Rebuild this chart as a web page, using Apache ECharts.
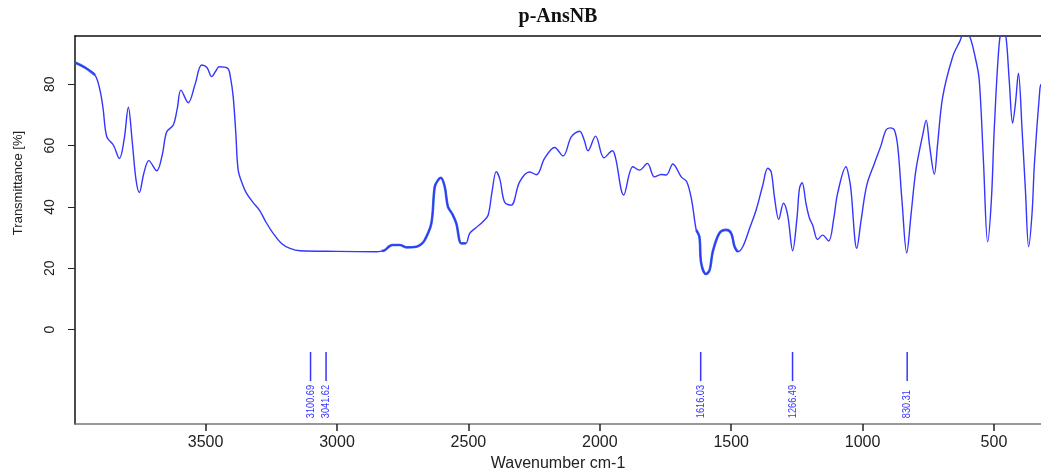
<!DOCTYPE html>
<html>
<head>
<meta charset="utf-8">
<script src="https://cdn.jsdelivr.net/npm/echarts@6/dist/echarts.min.js"></script>
<style>
html,body{margin:0;padding:0;background:#fff;}
#chart{width:1041px;height:470px;}
</style>
</head>
<body>
<div id="chart"></div>
<script>
// ---- data ----
var wavenumbers = [3997,3960,3921,3902,3890,3876,3851,3828,3810,3794,3780,3765,3752,3735,3716,3686,3665,3648,3623,3608,3594,3566,3540,3515,3495,3477,3460,3449,3416,3405,3395,3385,3376,3360,3344,3320,3294,3270,3243,3210,3179,3141,3000,2850,2830,2818,2800,2787,2761,2736,2698,2680,2666,2641,2628,2615,2605,2590,2578,2560,2546,2527,2510,2495,2470,2445,2425,2410,2394,2380,2362,2337,2305,2267,2241,2210,2172,2140,2108,2077,2060,2045,2016,1984,1952,1940,1909,1874,1849,1819,1792,1766,1747,1722,1690,1669,1650,1633,1621,1614,1596,1582,1570,1545,1519,1500,1487,1475,1456,1430,1405,1380,1361,1348,1335,1319,1301,1285,1266,1250,1240,1230,1215,1202,1190,1171,1152,1129,1110,1095,1063,1050,1044,1022,1005,984,955,930,911,895,879,866,850,832,815,797,770,758,745,727,715,695,657,630,613,594,569,556,540,524,510,499,480,467,455,442,429,418,407,393,380,368,355,346,325,321];
var transmittance = [87.1,85.5,83.0,78.1,72,62.9,60.2,55.8,62,72.5,62,49,44.7,51,55.1,51.8,57,64.5,66.7,72,78.1,74.0,80,86.3,85.5,82.5,84.5,85.7,85.2,82,75.9,64,52.0,47.5,44.4,41.5,38.8,35,31.4,28,26.5,25.7,25.5,25.4,25.6,25.9,27.2,27.6,27.6,26.8,27.0,27.8,29.2,34.6,46.6,48.8,49.5,46.6,40.1,37.5,34.6,28.1,28.1,31.4,33.3,35.2,37.3,45,51.5,49,41.5,40.6,48.2,51.4,50.5,55.8,59.4,56.6,62.9,64.7,62,58.3,63.1,56.0,58.3,56,43.9,53.1,52.0,54.2,49.8,50.6,50.4,54.0,49.8,48.2,42,32.5,30.3,21.6,18.1,19.4,25.4,31.4,32.5,31.4,27.0,25.4,27.0,33,39.0,47,52.6,51.5,43,35.9,41.2,37.3,25.7,36,46.1,47.9,41,36.3,34.1,29.4,30.8,28.9,36,44.4,53.1,49,45.5,26.5,36,47.1,54.2,60,65.1,65.8,65.1,59.6,42,25.0,38,52.0,64,68.3,60,50.7,60,75.9,89.0,94,97,96,87.9,81.4,55,28.6,42,65.1,93.3,98,96,81.4,67.3,74,83.6,65.1,45,27.0,38,54.2,78.7,80];
// wavenumber ranges drawn as the thicker, noisier trace
var noisyRanges = [[3920,3997],[2500,2830],[1460,1640]];
var peakPositions = [3100.69, 3041.62, 1616.03, 1266.49, 830.31];
var peakLabels = ['3100.69', '3041.62', '1616.03', '1266.49', '830.31'];
var xTicks = [3500, 3000, 2500, 2000, 1500, 1000, 500];
var yTicks = [0, 20, 40, 60, 80];

// ---- build ----
var mainData = wavenumbers.map(function(w, i){ return [w, transmittance[i]]; });
var noisyData = [];
noisyRanges.forEach(function(r, k){
  if (k > 0) noisyData.push([null, null]);
  wavenumbers.forEach(function(w, i){
    if (w >= r[0] && w <= r[1]) noisyData.push([w, transmittance[i]]);
  });
});
var peakData = peakPositions.map(function(p){ return [p, 0]; });

var LINE_TOP = -7.3, LINE_BOTTOM = -16.8, TEXT_BOTTOM = -28.9;
var BLUE = '#3535ff';
var plain = function(v){ return String(v); };

var chart = echarts.init(document.getElementById('chart'), null, {renderer: 'canvas'});
chart.setOption({
  animation: false,
  backgroundColor: '#ffffff',
  title: {
    text: 'p-AnsNB',
    left: 553, top: 2, textAlign: 'center',
    textStyle: {fontFamily: '"Liberation Serif", serif', fontWeight: 'bold', fontSize: 20, color: '#111'}
  },
  grid: {left: 75, top: 36, right: 0, bottom: 46, containLabel: false, outerBoundsMode: 'none'},
  graphic: [{
    type: 'text', x: 18, y: 183, rotation: Math.PI / 2,
    style: {text: 'Transmittance [%]', fill: '#222', font: '13px "Liberation Sans", Arial, sans-serif', align: 'center', verticalAlign: 'middle'}
  }],
  xAxis: [{
    type: 'value', inverse: true, min: 321, max: 3997,
    name: 'Wavenumber cm-1', nameLocation: 'middle', nameGap: 30,
    nameTextStyle: {fontFamily: '"Liberation Sans", Arial, sans-serif', fontSize: 16, color: '#222'},
    splitLine: {show: false},
    axisLine: {show: true, onZero: false, lineStyle: {color: '#777', width: 1.5}},
    axisTick: {show: true, length: 7, customValues: xTicks, lineStyle: {color: '#222', width: 1.5}},
    axisLabel: {customValues: xTicks, formatter: plain, margin: 11, fontFamily: '"Liberation Sans", Arial, sans-serif', fontSize: 16, color: '#222'}
  }, {
    type: 'value', inverse: true, min: 321, max: 3997, position: 'top',
    splitLine: {show: false},
    axisLine: {show: true, onZero: false, lineStyle: {color: '#111', width: 1.5}},
    axisTick: {show: false}, axisLabel: {show: false}
  }],
  yAxis: {
    type: 'value', min: -30.8, max: 95.75,
    splitLine: {show: false},
    axisLine: {show: true, onZero: false, lineStyle: {color: '#111', width: 1.5}},
    axisTick: {show: true, length: 7, customValues: yTicks, lineStyle: {color: '#222', width: 1}},
    axisLabel: {customValues: yTicks, formatter: plain, rotate: 90, margin: 18, fontFamily: '"Liberation Sans", Arial, sans-serif', fontSize: 14, color: '#222'}
  },
  series: [{
    type: 'line', data: mainData, showSymbol: false, smooth: 0.35,
    lineStyle: {color: BLUE, width: 1.4}, clip: true, z: 3
  }, {
    type: 'line', data: noisyData, showSymbol: false, smooth: 0.35, connectNulls: false,
    lineStyle: {color: '#3a6fe0', width: 2.6}, clip: true, z: 2
  }, {
    type: 'custom', data: peakData, z: 4,
    renderItem: function(params, api){
      var x = api.value(0);
      var p1 = api.coord([x, LINE_TOP]);
      var p2 = api.coord([x, LINE_BOTTOM]);
      var p3 = api.coord([x, TEXT_BOTTOM]);
      return {type: 'group', children: [
        {type: 'line', shape: {x1: p1[0], y1: p1[1], x2: p2[0], y2: p2[1]}, style: {stroke: BLUE, lineWidth: 1.5}},
        {type: 'text', x: p3[0], y: p3[1], rotation: Math.PI / 2, scaleX: 0.8,
         style: {text: peakLabels[params.dataIndex], fill: BLUE, font: '11.5px "Liberation Sans Narrow", "Liberation Sans", Arial, sans-serif', align: 'left', verticalAlign: 'middle'}}
      ]};
    }
  }]
});
</script>
</body>
</html>
